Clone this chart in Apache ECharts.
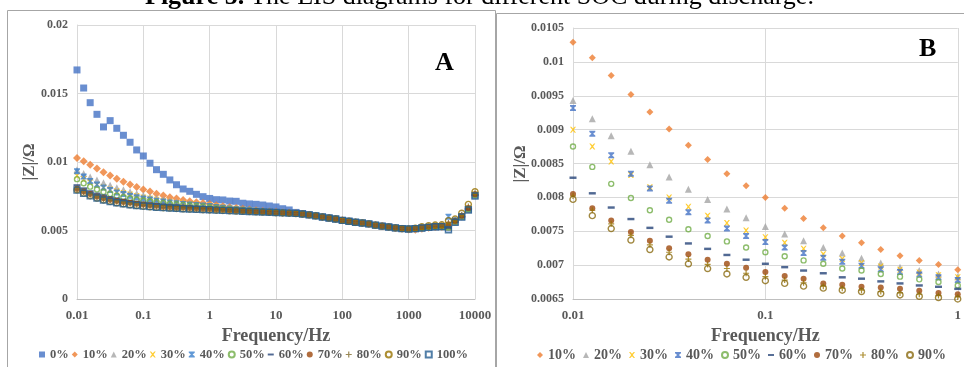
<!DOCTYPE html>
<html>
<head>
<meta charset="utf-8">
<script src="https://cdn.jsdelivr.net/npm/echarts@6/dist/echarts.min.js"></script>
<style>
  body { margin: 0; background: #fff; }
  #wrap { position: relative; width: 964px; height: 367px; overflow: hidden; }
  #chartA { position: absolute; left: 0; top: 0; width: 496px; height: 367px; }
  #chartB { position: absolute; left: 496px; top: 0; width: 468px; height: 367px; }
  #title { position: absolute; left: 145px; top: -17px; font: 26px/26px "Liberation Serif", "Times New Roman", serif; white-space: nowrap; z-index: 5; }
</style>
</head>
<body>
<div id="wrap">
  <div id="chartA"></div>
  <div id="chartB"></div>
  <div id="title"><b>Figure 5.</b> The EIS diagrams for different SOC during discharge.</div>
</div>
<script>
// frequencies, Hz (10 points per decade)
var freq = [0.01, 0.0126, 0.0158, 0.02, 0.0251, 0.0316, 0.0398, 0.0501, 0.0631, 0.0794,
    0.1, 0.126, 0.158, 0.2, 0.251, 0.316, 0.398, 0.501, 0.631, 0.794,
    1, 1.26, 1.58, 2, 2.51, 3.16, 3.98, 5.01, 6.31, 7.94,
    10, 12.6, 15.8, 20, 25.1, 31.6, 39.8, 50.1, 63.1, 79.4,
    100, 126, 158, 200, 251, 316, 398, 501, 631, 794,
    1000, 1260, 1580, 2000, 2510, 3160, 3980, 5010, 6310, 7940, 10000];

var socNames = ["0%", "10%", "20%", "30%", "40%", "50%", "60%", "70%", "80%", "90%", "100%"];

// |Z| in ohm
var z0 = [0.01672, 0.0154, 0.01433, 0.01348, 0.01256, 0.01302, 0.01246, 0.01195, 0.01144, 0.01088,
    0.01044, 0.00991, 0.00944, 0.0091, 0.00869, 0.00834, 0.00803, 0.00786, 0.00764, 0.00747,
    0.00734, 0.00725, 0.00723, 0.00715, 0.00713, 0.00699, 0.00694, 0.00691, 0.00686, 0.00679,
    0.00672, 0.00659, 0.0065, 0.00632, 0.00624, 0.00616, 0.00608, 0.00599, 0.00591, 0.00584,
    0.00574, 0.00567, 0.0056, 0.00555, 0.00548, 0.00539, 0.00532, 0.00526, 0.00519, 0.00514,
    0.00511, 0.00514, 0.00518, 0.00523, 0.00527, 0.00528, 0.00518, 0.00562, 0.006, 0.00655, 0.00758];
var z10 = [0.01029, 0.01006, 0.0098, 0.00952, 0.00926, 0.00901, 0.00877, 0.00856, 0.00835, 0.00817,
    0.008, 0.00784, 0.00769, 0.00755, 0.00743, 0.00733, 0.00723, 0.00714, 0.00707, 0.00701,
    0.00693, 0.00685, 0.00677, 0.0067, 0.00664, 0.00658, 0.00653, 0.00648, 0.00643, 0.00639,
    0.00636, 0.00632, 0.00629, 0.00626, 0.00621, 0.00615, 0.00607, 0.00599, 0.00592, 0.00584,
    0.00575, 0.00567, 0.00561, 0.00555, 0.00548, 0.0054, 0.00532, 0.00525, 0.00519, 0.00513,
    0.00508, 0.00505, 0.00512, 0.0052, 0.00525, 0.00527, 0.0053, 0.00566, 0.00603, 0.00657, 0.0076];
var z20 = [0.00943, 0.00916, 0.00891, 0.00868, 0.00848, 0.0083, 0.00812, 0.00797, 0.00783, 0.0077,
    0.00757, 0.00746, 0.00736, 0.00726, 0.00718, 0.0071, 0.00703, 0.00697, 0.00692, 0.00687,
    0.00683, 0.00676, 0.0067, 0.00664, 0.00658, 0.00654, 0.0065, 0.00645, 0.00641, 0.00638,
    0.00634, 0.00631, 0.00628, 0.00626, 0.0062, 0.00614, 0.00607, 0.006, 0.00591, 0.00584,
    0.00574, 0.00568, 0.0056, 0.00555, 0.00549, 0.00539, 0.00532, 0.00526, 0.00519, 0.00514,
    0.00511, 0.00513, 0.00518, 0.00523, 0.00527, 0.00529, 0.00522, 0.00565, 0.00602, 0.00656, 0.0076];
var z30 = [0.009, 0.00875, 0.00853, 0.00833, 0.00815, 0.008, 0.00786, 0.00773, 0.00762, 0.00751,
    0.00741, 0.00733, 0.00724, 0.00716, 0.00709, 0.00703, 0.00698, 0.00693, 0.00689, 0.00685,
    0.00682, 0.00675, 0.00669, 0.00663, 0.00658, 0.00653, 0.00649, 0.00645, 0.00641, 0.00637,
    0.00634, 0.00631, 0.00628, 0.00626, 0.0062, 0.00614, 0.00608, 0.00599, 0.00591, 0.00585,
    0.00574, 0.00567, 0.0056, 0.00556, 0.00548, 0.00539, 0.00533, 0.00526, 0.00519, 0.00514,
    0.00511, 0.00514, 0.00519, 0.00524, 0.00528, 0.00529, 0.00523, 0.00566, 0.00603, 0.00658, 0.00762];
var z40 = [0.00932, 0.00894, 0.00862, 0.00835, 0.00813, 0.00795, 0.00778, 0.00766, 0.00754, 0.00743,
    0.00734, 0.00726, 0.00718, 0.00711, 0.00705, 0.00699, 0.00694, 0.0069, 0.00686, 0.00682,
    0.00678, 0.00672, 0.00666, 0.00661, 0.00656, 0.00652, 0.00648, 0.00644, 0.0064, 0.00637,
    0.00634, 0.00631, 0.00628, 0.00625, 0.0062, 0.00614, 0.00607, 0.00599, 0.00591, 0.00584,
    0.00574, 0.00567, 0.0056, 0.00555, 0.00548, 0.00539, 0.00532, 0.00526, 0.00519, 0.00514,
    0.00511, 0.00514, 0.00518, 0.00523, 0.00527, 0.00528, 0.00601, 0.00575, 0.00604, 0.00656, 0.00758];
var z50 = [0.00875, 0.00845, 0.0082, 0.00799, 0.00781, 0.00767, 0.00753, 0.00743, 0.00735, 0.00726,
    0.00719, 0.00713, 0.00707, 0.00702, 0.00695, 0.00692, 0.00687, 0.00683, 0.00679, 0.00675,
    0.0067, 0.00665, 0.0066, 0.00656, 0.00652, 0.00648, 0.00645, 0.00642, 0.00638, 0.00635,
    0.00633, 0.0063, 0.00627, 0.00625, 0.0062, 0.00614, 0.00607, 0.00599, 0.00591, 0.00584,
    0.00574, 0.00567, 0.0056, 0.00555, 0.00548, 0.00539, 0.00532, 0.00526, 0.00519, 0.00514,
    0.00511, 0.00514, 0.00518, 0.00523, 0.00527, 0.00528, 0.00522, 0.00564, 0.00601, 0.00656, 0.0076];
var z60 = [0.00829, 0.00806, 0.00785, 0.00768, 0.00755, 0.00742, 0.00732, 0.00724, 0.00715, 0.00708,
    0.00702, 0.00697, 0.00692, 0.00688, 0.00682, 0.0068, 0.00676, 0.00673, 0.0067, 0.00668,
    0.00665, 0.00661, 0.00657, 0.00653, 0.0065, 0.00646, 0.00643, 0.0064, 0.00637, 0.00635,
    0.00632, 0.0063, 0.00627, 0.00625, 0.0062, 0.00614, 0.00607, 0.00599, 0.00591, 0.00584,
    0.00574, 0.00567, 0.0056, 0.00555, 0.00548, 0.00539, 0.00532, 0.00526, 0.00519, 0.00514,
    0.00511, 0.00514, 0.00518, 0.00523, 0.00527, 0.00528, 0.00521, 0.00564, 0.00601, 0.00655, 0.00759];
var z70 = [0.00805, 0.00784, 0.00766, 0.00749, 0.00736, 0.00725, 0.00716, 0.00708, 0.00702, 0.00696,
    0.0069, 0.00684, 0.0068, 0.00673, 0.00671, 0.00668, 0.00667, 0.00665, 0.00662, 0.00659,
    0.00657, 0.00654, 0.00651, 0.00648, 0.00646, 0.00643, 0.0064, 0.00638, 0.00636, 0.00633,
    0.00631, 0.00629, 0.00627, 0.00625, 0.0062, 0.00614, 0.00607, 0.00599, 0.00591, 0.00584,
    0.00574, 0.00567, 0.0056, 0.00555, 0.00548, 0.00539, 0.00532, 0.00526, 0.00519, 0.00514,
    0.00511, 0.00515, 0.00521, 0.00527, 0.00532, 0.00534, 0.00545, 0.0057, 0.00608, 0.00665, 0.00765];
var z80 = [0.00802, 0.00781, 0.00761, 0.00744, 0.0073, 0.00719, 0.00709, 0.00701, 0.00695, 0.00688,
    0.00683, 0.00678, 0.00674, 0.00669, 0.00666, 0.00663, 0.00661, 0.00659, 0.00657, 0.00655,
    0.00653, 0.00651, 0.00648, 0.00646, 0.00644, 0.00641, 0.00639, 0.00637, 0.00635, 0.00632,
    0.0063, 0.00628, 0.00626, 0.00624, 0.0062, 0.00614, 0.00607, 0.00599, 0.00591, 0.00584,
    0.00574, 0.00567, 0.0056, 0.00555, 0.00548, 0.00539, 0.00532, 0.00526, 0.00519, 0.00514,
    0.00512, 0.00517, 0.00524, 0.0053, 0.00535, 0.00537, 0.00555, 0.00575, 0.00615, 0.00675, 0.00772];
var z90 = [0.00797, 0.00773, 0.00754, 0.00737, 0.00723, 0.00712, 0.00702, 0.00695, 0.00687, 0.00682,
    0.00677, 0.00673, 0.00669, 0.00666, 0.00663, 0.00661, 0.00658, 0.00656, 0.00654, 0.00652,
    0.0065, 0.00648, 0.00646, 0.00644, 0.00642, 0.0064, 0.00638, 0.00636, 0.00634, 0.00632,
    0.0063, 0.00628, 0.00626, 0.00624, 0.0062, 0.00614, 0.00607, 0.00599, 0.00591, 0.00584,
    0.00574, 0.00567, 0.0056, 0.00555, 0.00548, 0.00539, 0.00532, 0.00526, 0.00519, 0.00514,
    0.00512, 0.00516, 0.00528, 0.00535, 0.0054, 0.00542, 0.00572, 0.00584, 0.00626, 0.00691, 0.00783];
var z100 = [0.00795, 0.00772, 0.00753, 0.00737, 0.00723, 0.00712, 0.00703, 0.00695, 0.00688, 0.00683,
    0.00678, 0.00674, 0.0067, 0.00667, 0.00664, 0.00662, 0.00659, 0.00657, 0.00655, 0.00653,
    0.00651, 0.00649, 0.00647, 0.00645, 0.00643, 0.00641, 0.00639, 0.00637, 0.00635, 0.00633,
    0.00631, 0.00629, 0.00627, 0.00625, 0.0062, 0.00614, 0.00607, 0.00599, 0.00591, 0.00584,
    0.00574, 0.00567, 0.0056, 0.00555, 0.00548, 0.00539, 0.00532, 0.00526, 0.00519, 0.00514,
    0.00511, 0.00514, 0.00518, 0.00523, 0.00527, 0.00528, 0.00505, 0.0056, 0.00598, 0.0065, 0.00752];

var allZ = [z0, z10, z20, z30, z40, z50, z60, z70, z80, z90, z100];

var FONT = '"Liberation Serif", "Times New Roman", serif';
var GREY = '#595959';

var SYM = {
    x: 'path://M0,0L2.2,0L5,3L7.8,0L10,0L6.4,5L10,10L7.8,10L5,7L2.2,10L0,10L3.6,5Z',
    hour: 'path://M0,0L10,0L10,2L6.4,5L10,8L10,10L0,10L0,8L3.6,5L0,2Z',
    dash: 'path://M0,0L10,0L10,3.2L0,3.2Z',
    plus: 'path://M4,0L6,0L6,4L10,4L10,6L6,6L6,10L4,10L4,6L0,6L0,4L4,4Z'
};

// marker style per SOC: [symbol, colour, size A, size B, hollow]
var markA = [
    ['rect', '#4472C4', 7, 6, false],
    ['diamond', '#ED7D31', 8, 7, false],
    ['triangle', '#A5A5A5', 7, 7, false],
    [SYM.x, '#FFC000', 6, 6, false],
    [SYM.hour, '#3B7FCC', 6, 6, false],
    ['circle', '#70AD47', 5, 5, true],
    [SYM.dash, '#264478', 7, 7, false],
    ['circle', '#9E480E', 6, 6, false],
    [SYM.plus, '#7F6A2A', 6, 6, false],
    ['circle', '#997300', 6, 6, true],
    ['rect', '#255E91', 6, 5, true]
];

function axisLabelFmt(v) {
    return String(+(+v).toPrecision(6));
}

function makeSeries(idx, sizeCol, n) {
    var m = markA[idx];
    var color = m[1];
    if (sizeCol === 3 && idx === 4) color = '#4472C4';
    if (sizeCol === 3 && idx === 8) color = '#997300';
    if (sizeCol === 3 && idx === 9) color = '#8A6A10';
    var data = [];
    for (var i = 0; i < n; i++) data.push([freq[i], allZ[idx][i]]);
    var s = {
        name: socNames[idx],
        type: 'scatter',
        symbol: m[0],
        symbolSize: m[0] === SYM.dash ? [m[sizeCol], m[sizeCol] * 0.35] : m[sizeCol],
        itemStyle: { color: color },
        data: data,
        z: 2 + idx
    };
    if (m[4]) {
        s.itemStyle = { color: 'rgba(255,255,255,0)', borderColor: color, borderWidth: 1.4 };
    }
    return s;
}

function baseOption(grid, xMax, yMin, yMax, yInt, legendNames, legendLeft, legendFont, legendGap, xNameGap) {
    return {
        animation: false,
        backgroundColor: 'transparent',
        grid: grid,
        xAxis: {
            type: 'log',
            logBase: 10,
            min: 0.01,
            max: xMax,
            splitNumber: 6,
            name: 'Frequency/Hz',
            nameLocation: 'middle',
            nameGap: xNameGap,
            nameTextStyle: { fontFamily: FONT, fontWeight: 'bold', fontSize: 18, color: GREY },
            axisLine: { show: true, lineStyle: { color: '#BFBFBF', width: 1 } },
            axisTick: { show: false },
            minorTick: { show: false },
            axisLabel: { fontFamily: FONT, fontWeight: 'bold', fontSize: 13, color: GREY, margin: 10, formatter: axisLabelFmt },
            splitLine: { show: true, lineStyle: { color: '#D9D9D9', width: 1 } }
        },
        yAxis: {
            type: 'value',
            min: yMin,
            max: yMax,
            interval: yInt,
            axisLine: { show: true, lineStyle: { color: '#D9D9D9', width: 1 } },
            axisTick: { show: false },
            axisLabel: { fontFamily: FONT, fontWeight: 'bold', fontSize: 12, color: GREY, margin: 9, formatter: axisLabelFmt },
            splitLine: { show: true, lineStyle: { color: '#D9D9D9', width: 1 } }
        },
        legend: {
            data: legendNames,
            left: legendLeft,
            top: 343,
            itemWidth: 6,
            itemHeight: 6,
            itemGap: legendGap,
            selectedMode: false,
            textStyle: { fontFamily: FONT, fontWeight: 'bold', fontSize: legendFont, color: GREY }
        }
    };
}

function yName(x, y) {
    return {
        type: 'text', x: x, y: y, rotation: Math.PI / 2, silent: true,
        style: { text: '|Z|/Ω', font: 'bold 17px ' + FONT, fill: GREY, align: 'center', verticalAlign: 'middle' }
    };
}

// ---- chart A: full range, 0% .. 100% ----
var chartA = echarts.init(document.getElementById('chartA'));
var optA = baseOption({ left: 77, top: 25, width: 398, height: 274 }, 10000, 0, 0.02, 0.005,
    socNames, 34, 12.5, 3, 19);
optA.series = [];
for (var i = 0; i < socNames.length; i++) optA.series.push(makeSeries(i, 2, freq.length));
optA.graphic = [
    { type: 'rect', shape: { x: 7.5, y: 10.5, width: 488, height: 400 }, style: { fill: 'none', stroke: '#A6A6A6', lineWidth: 1 }, silent: true },
    { type: 'text', left: 435, top: 50, style: { text: 'A', font: 'bold 26px ' + FONT, fill: '#000' } },
    yName(30, 162)
];
chartA.setOption(optA);

// ---- chart B: 0.01 - 1 Hz zoom, 10% .. 90% ----
var chartB = echarts.init(document.getElementById('chartB'));
var namesB = socNames.slice(1, 10);
var optB = baseOption({ left: 77, top: 28, width: 387, height: 271 }, 1, 0.0065, 0.0105, 0.0005,
    namesB, 36, 14, 7, 22);
optB.series = [];
for (var j = 1; j < 10; j++) optB.series.push(makeSeries(j, 3, 21));
optB.graphic = [
    { type: 'rect', shape: { x: 0.5, y: 13.5, width: 500, height: 400 }, style: { fill: 'none', stroke: '#A6A6A6', lineWidth: 1 }, silent: true },
    { type: 'text', left: 423, top: 36, style: { text: 'B', font: 'bold 26px ' + FONT, fill: '#000' } },
    yName(25, 164)
];
chartB.setOption(optB);
</script>
</body>
</html>
